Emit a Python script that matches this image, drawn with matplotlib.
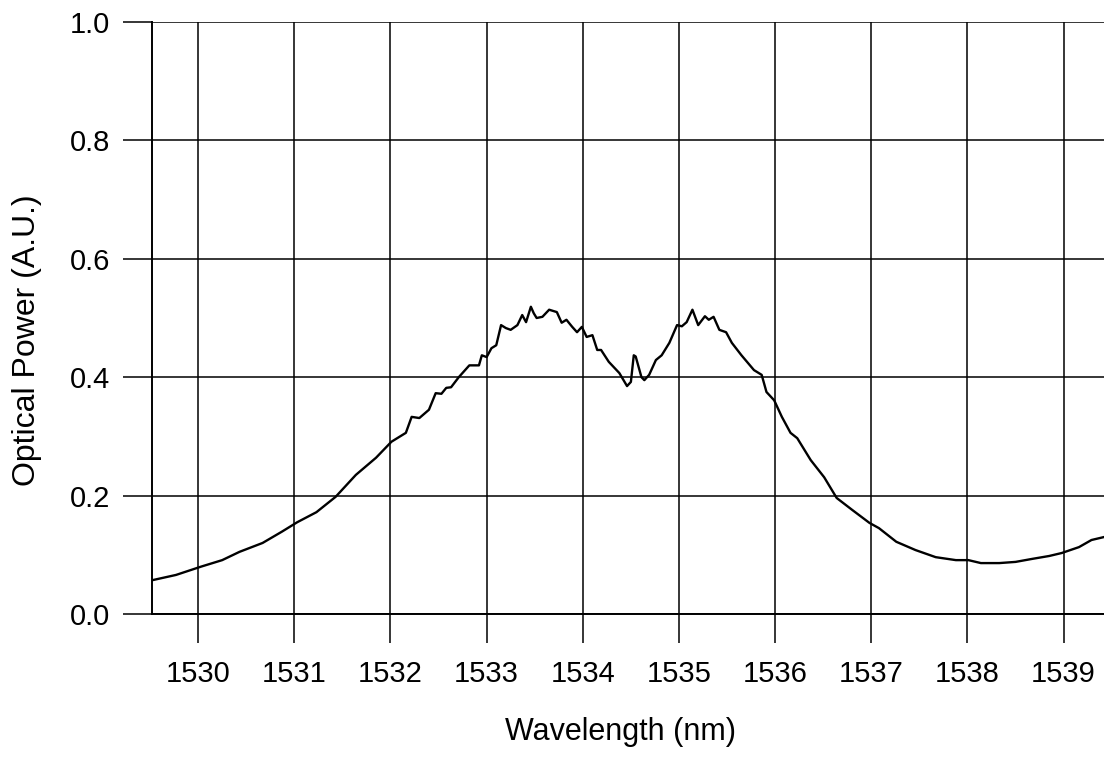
import matplotlib
matplotlib.use("Agg")
import matplotlib.pyplot as plt

plt.rcParams['font.family'] = ['Liberation Sans', 'DejaVu Sans']

# Measured spectrum: wavelength (nm) and optical power (A.U.)
wavelength = [
    1529.52, 1529.77, 1530.03, 1530.25, 1530.43, 1530.67, 1530.87, 1531.03,
    1531.23, 1531.43, 1531.64, 1531.85, 1532.01, 1532.16, 1532.22, 1532.30,
    1532.40, 1532.47, 1532.53, 1532.58, 1532.63, 1532.71, 1532.82, 1532.92,
    1532.95, 1533.00, 1533.05, 1533.10, 1533.15, 1533.20, 1533.25, 1533.32,
    1533.37, 1533.41, 1533.46, 1533.49, 1533.52, 1533.58, 1533.65, 1533.73,
    1533.78, 1533.83, 1533.89, 1533.94, 1533.99, 1534.04, 1534.10, 1534.15,
    1534.19, 1534.27, 1534.38, 1534.46, 1534.50, 1534.53, 1534.55, 1534.61,
    1534.64, 1534.69, 1534.76, 1534.82, 1534.90, 1534.98, 1535.03, 1535.08,
    1535.14, 1535.20, 1535.27, 1535.31, 1535.36, 1535.42, 1535.49, 1535.55,
    1535.65, 1535.78, 1535.86, 1535.91, 1535.99, 1536.07, 1536.16, 1536.23,
    1536.37, 1536.51, 1536.64, 1536.80, 1536.98, 1537.08, 1537.26, 1537.46,
    1537.67, 1537.88, 1538.01, 1538.14, 1538.33, 1538.50, 1538.67, 1538.85,
    1538.98, 1539.16, 1539.29, 1539.42,
]
power = [
    0.057, 0.066, 0.080, 0.091, 0.105, 0.120, 0.139, 0.155,
    0.172, 0.198, 0.235, 0.264, 0.291, 0.306, 0.333, 0.331,
    0.345, 0.373, 0.372, 0.382, 0.383, 0.400, 0.420, 0.420,
    0.437, 0.434, 0.449, 0.454, 0.488, 0.483, 0.480, 0.488,
    0.505, 0.493, 0.519, 0.508, 0.500, 0.502, 0.514, 0.510,
    0.492, 0.497, 0.485, 0.476, 0.485, 0.468, 0.471, 0.446,
    0.446, 0.426, 0.407, 0.385, 0.392, 0.437, 0.435, 0.400,
    0.395, 0.404, 0.429, 0.437, 0.458, 0.488, 0.486, 0.493,
    0.514, 0.488, 0.503, 0.497, 0.502, 0.480, 0.476, 0.458,
    0.437, 0.412, 0.404, 0.375, 0.361, 0.333, 0.306, 0.297,
    0.260, 0.231, 0.196, 0.176, 0.154, 0.145, 0.122, 0.108,
    0.096, 0.091, 0.091, 0.086, 0.086, 0.088, 0.093, 0.098,
    0.103, 0.113, 0.125, 0.130,
]

x_ticks = list(range(1530, 1540))
y_ticks = [0.0, 0.2, 0.4, 0.6, 0.8, 1.0]

fig = plt.figure(figsize=(11.04, 7.60), dpi=100)
ax = fig.add_axes([152 / 1104, 1 - 614 / 760, 1 - 152 / 1104, (614 - 22) / 760])

ax.plot(wavelength, power, color='black', lw=1.7, zorder=3)

ax.set_xlim(1529.52, 1539.42)
ax.set_ylim(0.0, 1.0)
ax.set_xticks(x_ticks)
ax.set_xticklabels([str(t) for t in x_ticks])
ax.set_yticks(y_ticks)
ax.set_yticklabels([f"{t:.1f}" for t in y_ticks])

ax.grid(True, color='black', lw=1.1)
ax.set_axisbelow(True)
for side in ('top', 'right'):
    ax.spines[side].set_visible(False)
for side in ('left', 'bottom'):
    ax.spines[side].set_linewidth(1.4)

ax.tick_params(axis='both', direction='out', length=21, width=1.1,
               labelsize=21, colors='black')
ax.tick_params(axis='x', pad=12)
ax.tick_params(axis='y', pad=9)

ax.set_xlabel('Wavelength (nm)', fontsize=22, labelpad=21)
ax.set_ylabel('Optical Power (A.U.)', fontsize=23, labelpad=20)
ax.xaxis.label.set_x(0.492)
ax.yaxis.label.set_y(0.463)

fig.savefig('out.png', dpi=100)
